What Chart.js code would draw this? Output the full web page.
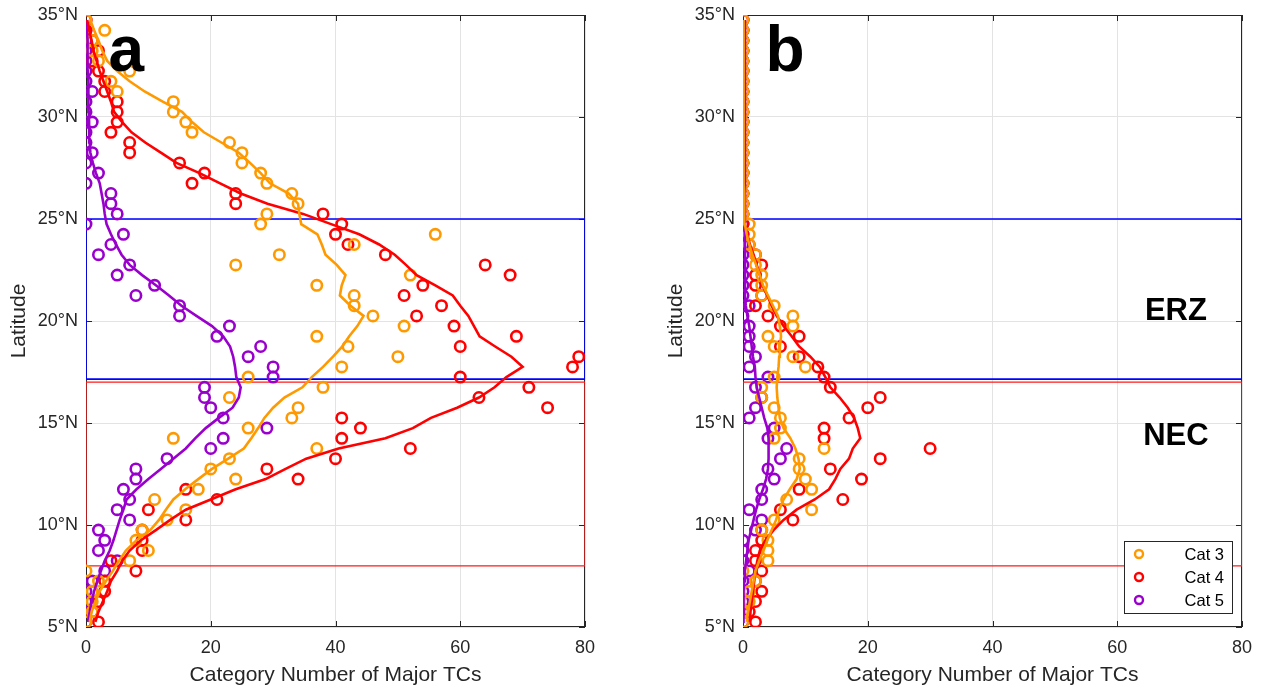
<!DOCTYPE html>
<html>
<head>
<meta charset="utf-8">
<script src="https://cdn.jsdelivr.net/npm/chart.js@4.4.1/dist/chart.umd.min.js"></script>
<style>
  html, body { margin: 0; padding: 0; background: #fff; }
  #wrap { position: relative; width: 1261px; height: 690px; }
  canvas { position: absolute; top: 0; }
</style>
</head>
<body>
<div id="wrap">
  <canvas id="chartA" width="630" height="690" style="left:0"></canvas>
  <canvas id="chartB" width="631" height="690" style="left:630px"></canvas>
</div>
<script>
// latitude bins (°N)
const lats = [
  5.25, 5.75, 6.25, 6.75, 7.25, 7.75, 8.25, 8.75, 9.25, 9.75,
  10.25, 10.75, 11.25, 11.75, 12.25, 12.75, 13.25, 13.75, 14.25, 14.75,
  15.25, 15.75, 16.25, 16.75, 17.25, 17.75, 18.25, 18.75, 19.25, 19.75,
  20.25, 20.75, 21.25, 21.75, 22.25, 22.75, 23.25, 23.75, 24.25, 24.75,
  25.25, 25.75, 26.25, 26.75, 27.25, 27.75, 28.25, 28.75, 29.25, 29.75,
  30.25, 30.75, 31.25, 31.75, 32.25, 32.75, 33.25, 33.75, 34.25, 34.75
];

// panel a : counts per bin
const cat3A = [
  0, 1, 1, 1, 2, 0, 7, 10, 8, 9,
  13, 16, 11, 18, 24, 20, 23, 37, 14, 26,
  33, 34, 23, 38, 26, 41, 50, 42, 37, 51,
  46, 43, 43, 37, 52, 24, 31, 43, 56, 28,
  29, 34, 33, 29, 28, 25, 25, 23, 17, 16,
  14, 14, 5, 4, 7, 2, 1, 1, 3, 0
];
const cat4A = [
  2, 1, 2, 3, 3, 8, 4, 9, 9, 9,
  16, 10, 21, 16, 34, 29, 40, 52, 41, 44,
  41, 74, 63, 71, 60, 78, 79, 60, 69, 59,
  53, 57, 51, 54, 68, 64, 48, 42, 40, 41,
  38, 24, 24, 17, 19, 15, 7, 7, 4, 5,
  5, 5, 3, 3, 2, 1, 2, 1, 0, 0
];
const cat5A = [
  0, 0, 0, 0, 1, 3, 5, 2, 3, 2,
  7, 5, 7, 6, 8, 8, 13, 20, 22, 29,
  22, 20, 19, 19, 30, 30, 26, 28, 21, 23,
  15, 15, 8, 11, 5, 7, 2, 4, 6, 0,
  5, 4, 4, 0, 2, 0, 1, 0, 0, 1,
  0, 0, 1, 0, 0, 0, 0, 0, 0, 0
];
// panel a : smoothed curves
const cat3ALine = [
  0.6, 0.9, 1.5, 2.2, 3.2, 4.3, 5.3, 6.4, 8.1, 10.3,
  11.7, 12.8, 14, 15.9, 18, 20.2, 22.8, 25.3, 26.5, 27.6,
  28.6, 30, 31.8, 34.7, 36.2, 38, 39.6, 41.1, 42.2, 43.5,
  44.5, 42.4, 40.7, 41, 41.6, 40.2, 38.4, 37.8, 37.1, 34.5,
  34.2, 34, 32.5, 29.5, 28, 26.3, 24.5, 21.7, 18.9, 17,
  15.4, 12.3, 9.4, 7, 5, 3.4, 2.6, 2, 1.3, 0.7
];
const cat4ALine = [
  1.5, 2, 2.7, 3.4, 4, 5, 5.8, 7, 8.8, 11.2,
  13.5, 16, 20, 24, 28.8, 32, 35.3, 40.5, 48, 52.4,
  55.3, 59.5, 63, 65.5, 67.4, 70, 68.2, 65.6, 63.1, 62.2,
  61.3, 60, 58.8, 56, 53, 51.3, 49.5, 47, 43.8, 39.3,
  34.8, 29.1, 24.8, 21.5, 18.2, 14.5, 12, 9.5, 7.3, 5.8,
  4.5, 4, 3.4, 2.8, 2.2, 1.7, 1.2, 0.9, 0.5, 0.2
];
const cat5ALine = [
  0.3, 0.6, 0.9, 1.3, 1.8, 2.4, 3, 3.8, 4.4, 4.9,
  5.4, 6, 6.5, 8.1, 10, 12, 14, 16, 17.5, 19.2,
  21.3, 23.5, 24.5, 24.8, 24.1, 23.9, 23.6, 23.1, 22, 20.2,
  17.7, 15.3, 13.3, 11.2, 9, 7, 5.7, 4.8, 4, 3.3,
  3, 2.8, 2.5, 2.2, 1.6, 1.1, 0.7, 0.6, 0.5, 0.5,
  0.45, 0.4, 0.4, 0.35, 0.3, 0.3, 0.25, 0.2, 0.15, 0.1
];

// panel b : counts per bin
const cat3B = [
  0, 0, 1, 1, 2, 0, 4, 4, 4, 3,
  5, 11, 7, 11, 10, 9, 9, 13, 5, 6,
  6, 5, 3, 3, 5, 10, 8, 5, 4, 8,
  8, 5, 3, 3, 3, 2, 2, 1, 1, 1,
  0, 0, 0, 0, 0, 0, 0, 0, 0, 0,
  0, 0, 0, 0, 0, 0, 0, 0, 0, 0
];
const cat4B = [
  2, 1, 2, 3, 2, 3, 2, 2, 3, 3,
  8, 6, 16, 9, 19, 14, 22, 30, 13, 13,
  17, 20, 22, 14, 13, 12, 9, 6, 9, 6,
  4, 2, 3, 2, 2, 3, 2, 1, 0, 0,
  0, 0, 0, 0, 0, 0, 0, 0, 0, 0,
  0, 0, 0, 0, 0, 0, 0, 0, 0, 0
];
const cat5B = [
  0, 0, 0, 0, 0, 1, 0, 0, 0, 2,
  3, 1, 3, 3, 5, 4, 6, 7, 4, 5,
  1, 2, 3, 2, 4, 1, 2, 1, 1, 1,
  0, 1, 0, 0, 0, 0, 0, 0, 0, 0,
  0, 0, 0, 0, 0, 0, 0, 0, 0, 0,
  0, 0, 0, 0, 0, 0, 0, 0, 0, 0
];
// panel b : smoothed curves
const cat3BLine = [
  0.6, 0.8, 1.1, 1.4, 1.7, 2, 2.6, 3.3, 3.9, 4.6,
  5.3, 5.8, 6.5, 7.5, 8.6, 9.1, 8.9, 8.4, 7.6, 6.5,
  5.9, 5.7, 5.5, 5.4, 5.5, 5.7, 5.8, 5.9, 6.1, 5.9,
  5.6, 4.8, 4, 3.2, 2.7, 2.1, 1.5, 1, 0.6, 0.3,
  0.2, 0.2, 0.2, 0.1, 0.1, 0.1, 0.1, 0.1, 0.1, 0.1,
  0.1, 0.1, 0.1, 0.1, 0.1, 0.1, 0.1, 0.1, 0.1, 0.1
];
const cat4BLine = [
  1.1, 1.2, 1.4, 1.6, 1.8, 2, 2.3, 2.7, 3.6, 4.9,
  6.5, 8.6, 11.5, 13.8, 14.8, 15.6, 17, 17.6, 18.8, 18.4,
  17.8, 16.8, 15.5, 14, 13.2, 12.3, 10.8, 9, 7.8, 6.5,
  5.4, 4.6, 3.9, 3.1, 2.7, 2.2, 1.7, 1.1, 0.7, 0.2,
  0, 0, 0, 0, 0, 0, 0, 0, 0, 0,
  0, 0, 0, 0, 0, 0, 0, 0, 0, 0
];
const cat5BLine = [
  0, 0, 0.1, 0.15, 0.2, 0.3, 0.5, 0.7, 0.9, 1.3,
  1.7, 2.1, 2.6, 3.2, 3.7, 4, 4.1, 4.1, 4.1, 3.9,
  3.4, 3, 2.6, 2.2, 2, 1.9, 1.6, 1.4, 1.2, 1,
  0.7, 0.45, 0.3, 0.3, 0.3, 0.3, 0.3, 0.3, 0.3, 0.3,
  0.3, 0.3, 0.3, 0.3, 0.3, 0.3, 0.3, 0.3, 0.3, 0.3,
  0.3, 0.3, 0.3, 0.3, 0.3, 0.3, 0.3, 0.3, 0.3, 0.3
];

// regions (x in counts, y in °N)
const erzBox = { x: [0, 80, 80, 0, 0], y: [17.15, 17.15, 25, 25, 17.15] };
const necBox = { x: [0, 80, 80, 0, 0], y: [8, 8, 17, 17, 8] };
const seriesNames = ["Cat 3", "Cat 4", "Cat 5"];
const xTicks = [0, 20, 40, 60, 80];
const yTicks = [5, 10, 15, 20, 25, 30, 35];

const colors = ["#ff9900", "#ff0000", "#9900cc"];
const FAMILY = "'Liberation Sans', Arial, sans-serif";

function pts(values) {
  return values.map((v, i) => ({ x: v, y: lats[i] }));
}

function boxPts(box) {
  return box.x.map((v, i) => ({ x: v, y: box.y[i] }));
}

function lineSet(values, color) {
  return {
    type: "line",
    data: pts(values),
    borderColor: color,
    borderWidth: 2.6,
    pointRadius: 0,
    fill: false,
    tension: 0,
  };
}

function circleSet(label, values, color) {
  return {
    label,
    data: pts(values),
    borderColor: color,
    backgroundColor: "rgba(0,0,0,0)",
    borderWidth: 2.6,
    pointRadius: 5.2,
    showLine: false,
  };
}

function boxSet(box, color, width) {
  return {
    type: "line",
    data: boxPts(box),
    borderColor: color,
    borderWidth: width,
    pointRadius: 0,
    fill: false,
    tension: 0,
  };
}

const framePlugin = {
  id: "frame",
  beforeDatasetsDraw(chart) {
    const { ctx, chartArea, scales } = chart;
    const { left, right, top, bottom } = chartArea;
    ctx.save();
    ctx.strokeStyle = "#262626";
    ctx.lineWidth = 1;
    ctx.strokeRect(left + 0.5, top + 0.5, right - left - 1, bottom - top - 1);
    ctx.beginPath();
    xTicks.forEach((t) => {
      const px = Math.round(scales.x.getPixelForValue(t)) + 0.5;
      ctx.moveTo(px, bottom);
      ctx.lineTo(px, bottom - 6);
      ctx.moveTo(px, top);
      ctx.lineTo(px, top + 6);
    });
    yTicks.forEach((t) => {
      const py = Math.round(scales.y.getPixelForValue(t)) + 0.5;
      ctx.moveTo(left, py);
      ctx.lineTo(left + 6, py);
      ctx.moveTo(right, py);
      ctx.lineTo(right - 6, py);
    });
    ctx.stroke();
    ctx.restore();
  },
  afterDatasetsDraw(chart, args, opts) {
    const { ctx, chartArea, scales } = chart;
    ctx.save();
    ctx.fillStyle = "#000";
    ctx.textBaseline = "alphabetic";
    ctx.textAlign = "left";
    ctx.font = "bold 64px " + FAMILY;
    ctx.fillText(opts.panel, scales.x.getPixelForValue(opts.panelX), scales.y.getPixelForValue(32.25));
    if (opts.regions) {
      ctx.font = "bold 31px " + FAMILY;
      ctx.textAlign = "center";
      ctx.textBaseline = "middle";
      ctx.fillText("ERZ", scales.x.getPixelForValue(69.4), scales.y.getPixelForValue(20.45));
      ctx.fillText("NEC", scales.x.getPixelForValue(69.4), scales.y.getPixelForValue(14.35));
    }
    if (opts.legend) {
      const bx = chartArea.right - 118;
      const by = chartArea.bottom - 86;
      ctx.fillStyle = "#fff";
      ctx.fillRect(bx, by, 108, 72);
      ctx.strokeStyle = "#262626";
      ctx.lineWidth = 1;
      ctx.strokeRect(bx + 0.5, by + 0.5, 108, 72);
      ctx.font = "16.5px " + FAMILY;
      ctx.textAlign = "right";
      ctx.textBaseline = "middle";
      seriesNames.forEach((name, i) => {
        const ry = by + 13 + i * 23;
        ctx.beginPath();
        ctx.strokeStyle = colors[i];
        ctx.lineWidth = 2.4;
        ctx.arc(bx + 15, ry, 4, 0, Math.PI * 2);
        ctx.stroke();
        ctx.fillStyle = "#000";
        ctx.fillText(name, bx + 100, ry + 1);
      });
    }
    ctx.restore();
  },
};

function makeChart(id, c3, c4, c5, l3, l4, l5, yWidth, rightPad, titlePad, opts) {
  const font = { family: FAMILY, size: 18 };
  const titleFont = { family: FAMILY, size: 21 };
  return new Chart(document.getElementById(id), {
    type: "scatter",
    data: {
      datasets: [
        lineSet(l3, colors[0]),
        lineSet(l4, colors[1]),
        lineSet(l5, colors[2]),
        circleSet(seriesNames[0], c3, colors[0]),
        circleSet(seriesNames[1], c4, colors[1]),
        circleSet(seriesNames[2], c5, colors[2]),
        boxSet(erzBox, "#0000ff", 1.6),
        boxSet(necBox, "#ff1a1a", 1.3),
      ],
    },
    options: {
      responsive: false,
      animation: false,
      devicePixelRatio: 1,
      layout: { padding: { top: 15, right: rightPad, left: 0, bottom: 0 } },
      plugins: {
        legend: { display: false },
        tooltip: { enabled: false },
        frame: opts,
      },
      scales: {
        x: {
          type: "linear",
          min: 0,
          max: 80,
          afterFit: (s) => { s.height = 63; s.paddingLeft = 0; s.paddingRight = 0; },
          afterBuildTicks: (s) => { s.ticks = xTicks.map((v) => ({ value: v })); },
          ticks: { color: "#262626", font, padding: 10, maxRotation: 0 },
          grid: { color: "#e3e3e3", drawTicks: false },
          border: { display: false },
          title: {
            display: true,
            text: "Category Number of Major TCs",
            color: "#262626",
            font: titleFont,
            padding: { top: 0, bottom: 2 },
          },
        },
        y: {
          type: "linear",
          min: 5,
          max: 35,
          afterFit: (s) => { s.width = yWidth; s.paddingTop = 0; s.paddingBottom = 0; },
          afterBuildTicks: (s) => { s.ticks = yTicks.map((v) => ({ value: v })); },
          ticks: { color: "#262626", font, padding: 8, callback: (v) => v + "°N" },
          grid: { color: "#e3e3e3", drawTicks: false },
          border: { display: false },
          title: {
            display: true,
            text: "Latitude",
            color: "#262626",
            font: titleFont,
            padding: { top: titlePad, bottom: 0 },
          },
        },
      },
    },
    plugins: [framePlugin],
  });
}

makeChart("chartA", cat3A, cat4A, cat5A, cat3ALine, cat4ALine, cat5ALine, 86, 45, 7,
  { panel: "a", panelX: 3.6, regions: false, legend: false });
makeChart("chartB", cat3B, cat4B, cat5B, cat3BLine, cat4BLine, cat5BLine, 113, 19, 34,
  { panel: "b", panelX: 3.6, regions: true, legend: true });
</script>
</body>
</html>
